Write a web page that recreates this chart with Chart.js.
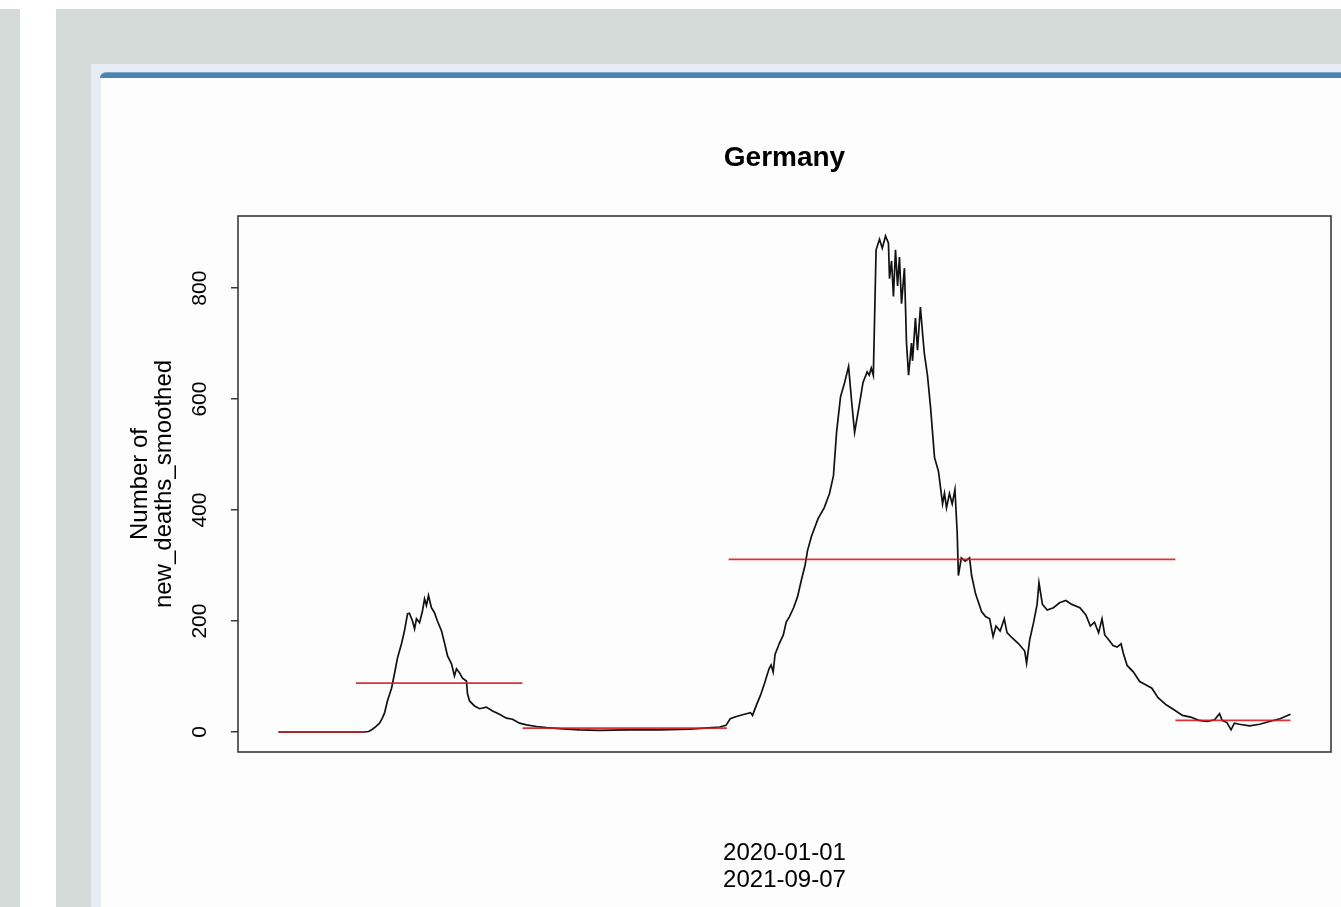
<!DOCTYPE html>
<html>
<head>
<meta charset="utf-8">
<title>Germany</title>
<script src="https://cdn.jsdelivr.net/npm/chart.js@4.4.1/dist/chart.umd.min.js"></script>
<style>
  html, body { margin: 0; padding: 0; background: #fff; }
  body { width: 1341px; height: 907px; overflow: hidden; position: relative; }
  .strip { position: absolute; left: 0; top: 9px; width: 20px; height: 898px; background: #d5dbd8; }
  .main { position: absolute; left: 56px; top: 9px; width: 1285px; height: 898px; background: #d5dbd8; }
  .frame { position: absolute; left: 91px; top: 64px; width: 1250px; height: 843px; background: #e9ecf4; }
  .bar { position: absolute; left: 100px; top: 72px; width: 1241px; height: 6px;
         background: #4a84b1; border-top: 1px solid #7aa9cc; border-top-left-radius: 6px; box-sizing: border-box; }
  .panel { position: absolute; left: 101px; top: 78px; width: 1240px; height: 829px; background: #fdfdfd; }
</style>
</head>
<body>
<div class="strip"></div>
<div class="main"></div>
<div class="frame"></div>
<div class="bar"></div>
<div class="panel"><canvas id="chart"></canvas></div>

<script>
// ----------------------
// DATA (x = days since first row)
// ----------------------
const chartTitle = 'Germany';
const yLabel = ['Number of', 'new_deaths_smoothed'];
const xLabel = ['2020-01-01', '2021-09-07'];
const yTicks = [0, 200, 400, 600, 800];

const day = [
  0, 25, 50, 52.5, 54.7, 56.8, 58.8, 60.3, 61.7, 63.4, 65.8, 67.5, 69.3, 71.6, 73.3, 75.1, 76.2, 78, 79.2, 80.3,
  82.1, 83.8, 85, 86.1, 87.3, 89, 90.8, 92.5, 94.9, 96.6, 98.4, 100.7, 102.4, 103.6, 105.3, 107.1, 109.4, 110, 111.2, 114.1,
  117, 121, 124.6, 128.6, 132.7, 136.2, 140.3, 144.3, 150.2, 156, 163.6, 175, 186.8, 204, 221.8, 239, 248, 256.7, 260.5, 262.9,
  266.5, 271.2, 274.7, 275.9, 278.2, 280.5, 282.9, 285.5, 286.7, 287.9, 289, 291.4, 293.8, 295.5, 297.4, 299.8, 302.1, 304.4, 306.5, 307.9,
  310.2, 314.1, 317.6, 320.7, 323, 324.8, 327.1, 329.5, 331.8, 333.5, 335.3, 337.8, 340.2, 342.6, 343.8, 345, 346.2, 347.8, 349.8, 351.4,
  353.3, 355, 355.6, 356.8, 357.9, 359.1, 360.3, 361.4, 362.6, 364.3, 365.5, 366.7, 368.4, 369, 370.7, 371.9, 373.6, 374.8, 375.9, 377.7,
  379.5, 381.8, 384.1, 386.5, 387.6, 388.8, 390.5, 392.1, 393.7, 395, 395.7, 397.4, 399.7, 402.2, 403.4, 405.7, 409.2, 411.5, 413.9, 415.9,
  417.6, 420, 422.4, 424, 427.2, 430.8, 434.3, 435.4, 437.2, 439.5, 441.5, 442.6, 444.6, 447.4, 451, 454.6, 458.2, 461.7, 466.4, 469.9,
  472.5, 474.9, 477.3, 479.3, 480.9, 483.3, 485.7, 488.1, 490.4, 491.6, 493.9, 497.6, 501.2, 504.7, 508.3, 511.9, 516.6, 521.2, 526.1, 530.9,
  535.7, 540.5, 544.8, 547.7, 549.2, 552, 554.4, 556.3, 559.2, 565.2, 571, 576.8, 582.9, 589
];
const deaths = [
  0, 0, 0, 1, 5, 10, 16, 24, 34, 56, 79, 105, 134, 159, 182, 213, 214, 200, 186, 204,
  197, 218, 240, 228, 246, 224, 215, 200, 182, 161, 137, 123, 101, 114, 107, 97, 92, 69, 56, 47,
  42, 45, 38, 32, 25, 23, 16, 13, 10, 8, 6, 4, 3, 4, 4, 5, 7, 9, 12, 24,
  28, 32, 35, 30, 49, 66, 88, 114, 121, 108, 140, 159, 175, 198, 208, 224, 244, 275, 301, 327,
  353, 385, 404, 430, 462, 540, 604, 630, 659, 598, 540, 585, 630, 649, 643, 656, 643, 869, 888, 872,
  894, 881, 817, 849, 785, 869, 804, 856, 772, 836, 701, 643, 701, 669, 746, 688, 766, 720, 682, 643,
  585, 495, 470, 411, 430, 404, 430, 411, 437, 359, 282, 314, 308, 314, 282, 249, 217, 208, 204, 172,
  191, 182, 204, 179, 169, 159, 146, 124, 166, 198, 230, 269, 230, 220, 224, 233, 237, 230, 224, 211,
  191, 198, 179, 204, 175, 166, 156, 153, 159, 143, 120, 108, 91, 85, 79, 62, 49, 40, 30, 27,
  21, 19, 22, 33, 21, 17, 4, 16, 14, 11, 14, 19, 24, 32
];

// segment means (red lines)
const segStart = [0, 45, 142, 262, 522];
const segEnd = [50, 142, 261, 522, 589];
const segMean = [0, 88, 7, 311, 21];

// ----------------------
// HELPERS
// ----------------------
const FONT = "'Liberation Sans', Arial, Helvetica, sans-serif";
const xPad = (day[day.length - 1] - day[0]) * 0.04;
const yPad = 36;

const seriesPoints = day.map((d, i) => ({ x: d, y: deaths[i] }));

const segDatasets = segMean.map((m, i) => ({
  label: 'segment ' + (i + 1),
  data: [{ x: segStart[i], y: m }, { x: segEnd[i], y: m }],
  borderColor: 'rgba(220, 20, 30, 0.88)',
  borderWidth: 1.7,
  pointRadius: 0,
  order: 0
}));

const framePlugin = {
  id: 'frame',
  afterDatasetsDraw(chart) {
    const { ctx, chartArea: a } = chart;
    ctx.save();
    ctx.strokeStyle = '#3a3a3a';
    ctx.lineWidth = 1.6;
    ctx.strokeRect(a.left, a.top, a.right - a.left, a.bottom - a.top);
    ctx.restore();
  }
};

const mainTitlePlugin = {
  id: 'mainTitle',
  afterDraw(chart) {
    const { ctx, chartArea: a } = chart;
    ctx.save();
    ctx.font = 'bold 28px ' + FONT;
    ctx.fillStyle = '#000';
    ctx.textAlign = 'center';
    ctx.textBaseline = 'middle';
    ctx.fillText(chartTitle, (a.left + a.right) / 2, 80);
    ctx.restore();
  }
};

// ----------------------
// CHART
// ----------------------
new Chart(document.getElementById('chart'), {
  type: 'line',
  data: {
    datasets: [
      {
        label: 'new_deaths_smoothed',
        data: seriesPoints,
        borderColor: '#111',
        borderWidth: 1.7,
        pointRadius: 0,
        tension: 0,
        order: 1
      },
      ...segDatasets
    ]
  },
  options: {
    responsive: true,
    maintainAspectRatio: false,
    animation: false,
    layout: { padding: { top: 138, right: 10, left: 0, bottom: 0 } },
    plugins: {
      legend: { display: false },
      tooltip: { enabled: false },
      title: { display: false }
    },
    scales: {
      x: {
        type: 'linear',
        min: day[0] - xPad,
        max: day[day.length - 1] + xPad,
        grid: { display: false },
        border: { display: false },
        ticks: { display: false },
        title: {
          display: true,
          text: xLabel,
          color: '#000',
          font: { family: FONT, size: 24, lineHeight: 1.15 },
          padding: { top: 0, bottom: 12.6 }
        },
        afterFit(scale) { scale.height = 155; }
      },
      y: {
        type: 'linear',
        min: -yPad,
        max: 930,
        afterBuildTicks(scale) { scale.ticks = yTicks.map(v => ({ value: v })); },
        grid: {
          drawOnChartArea: false,
          drawTicks: true,
          tickLength: 7,
          color: '#3a3a3a',
          lineWidth: 1.5
        },
        border: { display: false },
        ticks: {
          color: '#000',
          font: { family: FONT, size: 21 },
          minRotation: 90,
          maxRotation: 90,
          crossAlign: 'center',
          padding: 13
        },
        title: {
          display: true,
          text: yLabel,
          color: '#000',
          font: { family: FONT, size: 24, lineHeight: 1.0 },
          padding: { top: 27, bottom: 0 }
        },
        afterFit(scale) { scale.width = 137; }
      }
    }
  },
  plugins: [framePlugin, mainTitlePlugin]
});
</script>
</body>
</html>
